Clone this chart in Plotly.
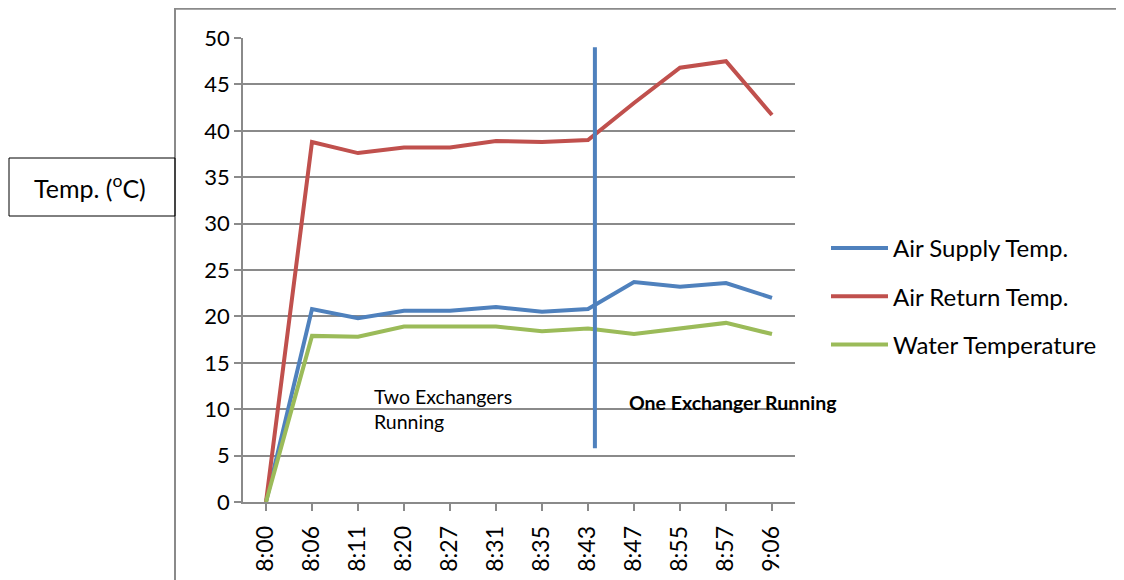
import plotly.graph_objects as go

times = ["8:00", "8:06", "8:11", "8:20", "8:27", "8:31", "8:35", "8:43", "8:47", "8:55", "8:57", "9:06"]
air_supply = [0, 20.8, 19.8, 20.6, 20.6, 21.0, 20.5, 20.8, 23.7, 23.2, 23.6, 22.0]
air_return = [0, 38.8, 37.6, 38.2, 38.2, 38.9, 38.8, 39.0, 43.0, 46.8, 47.5, 41.7]
water_temp = [0, 17.9, 17.8, 18.9, 18.9, 18.9, 18.4, 18.7, 18.1, 18.7, 19.3, 18.1]
divider_x = [7.15, 7.15]
divider_y = [5.8, 49.0]

FONT = "Lato, 'Open Sans', sans-serif"
GRID = "#8a8a8a"

OFF = 8  # page body margin
W, H = 1124 - OFF, 580 - OFF
# plot area in page pixels (reference)
L, R, T, B = 243, 795, 38, 502


def px(x):
    return (x - L) / (R - L)


def py(y):
    return (B - y) / (B - T)


fig = go.Figure()
series = [
    ("Air Supply Temp.", air_supply, "#4F81BD"),
    ("Air Return Temp.", air_return, "#C0504D"),
    ("Water Temperature", water_temp, "#9BBB59"),
]
xi = list(range(len(times)))
for i, (name, vals, col) in enumerate(series):
    fig.add_trace(go.Scatter(x=xi, y=vals, mode="lines", name=name,
                             line=dict(color=col, width=4), legendgroup=str(i)))

fig.add_trace(go.Scatter(x=divider_x, y=divider_y, mode="lines", showlegend=False,
                         line=dict(color="#4F81BD", width=4)))

fig.update_layout(
    width=W, height=H,
    margin=dict(l=L - OFF, r=W - (R - OFF), t=T - OFF, b=H - (B - OFF), autoexpand=False),
    paper_bgcolor="white", plot_bgcolor="white",
    font=dict(family=FONT, color="#000000", size=22),
    legend=dict(x=px(826), y=py(226), xanchor="left", yanchor="top",
                font=dict(size=24, family=FONT), tracegroupgap=14,
                traceorder="grouped", itemwidth=57, bgcolor="rgba(0,0,0,0)"),
    xaxis=dict(
        range=[-0.5, 11.5], tickmode="array", tickvals=xi, ticktext=times,
        tickangle=-90, ticks="outside", ticklen=7, tickcolor=GRID, tickwidth=1.5,
        showline=True, linecolor=GRID, linewidth=1.5, showgrid=False, zeroline=False,
        tickfont=dict(size=23), ticklabelstandoff=6, automargin=False,
    ),
    yaxis=dict(
        range=[0, 50], dtick=5, ticks="outside", ticklen=7, tickcolor=GRID, tickwidth=1.5,
        showline=True, linecolor=GRID, linewidth=1.5, showgrid=True, gridcolor=GRID,
        gridwidth=1.5, zeroline=False, tickfont=dict(size=22), automargin=False,
    ),
)

# outer chart frame
fig.add_shape(type="rect", xref="paper", yref="paper",
              x0=px(175), x1=px(1140), y0=py(600), y1=py(OFF + 0.8),
              line=dict(color=GRID, width=2), layer="below")
# y-label box
fig.add_shape(type="rect", xref="paper", yref="paper",
              x0=px(OFF + 1), x1=px(175), y0=py(216), y1=py(158),
              line=dict(color="#000000", width=1))
fig.add_annotation(xref="paper", yref="paper", x=px(90), y=py(187),
                   text="Temp. (<sup>o</sup>C)", showarrow=False,
                   font=dict(size=25, family=FONT), xanchor="center", yanchor="middle")
fig.add_annotation(xref="paper", yref="paper", x=px(372), y=py(409),
                   text="Two Exchangers<br>Running", showarrow=False, align="left",
                   font=dict(size=19.5, family=FONT), xanchor="left", yanchor="middle")
fig.add_annotation(xref="paper", yref="paper", x=px(627), y=py(402),
                   text="<b>One Exchanger Running</b>", showarrow=False, align="left",
                   font=dict(size=19.5, family=FONT), xanchor="left", yanchor="middle")

fig.write_html("out.html")
